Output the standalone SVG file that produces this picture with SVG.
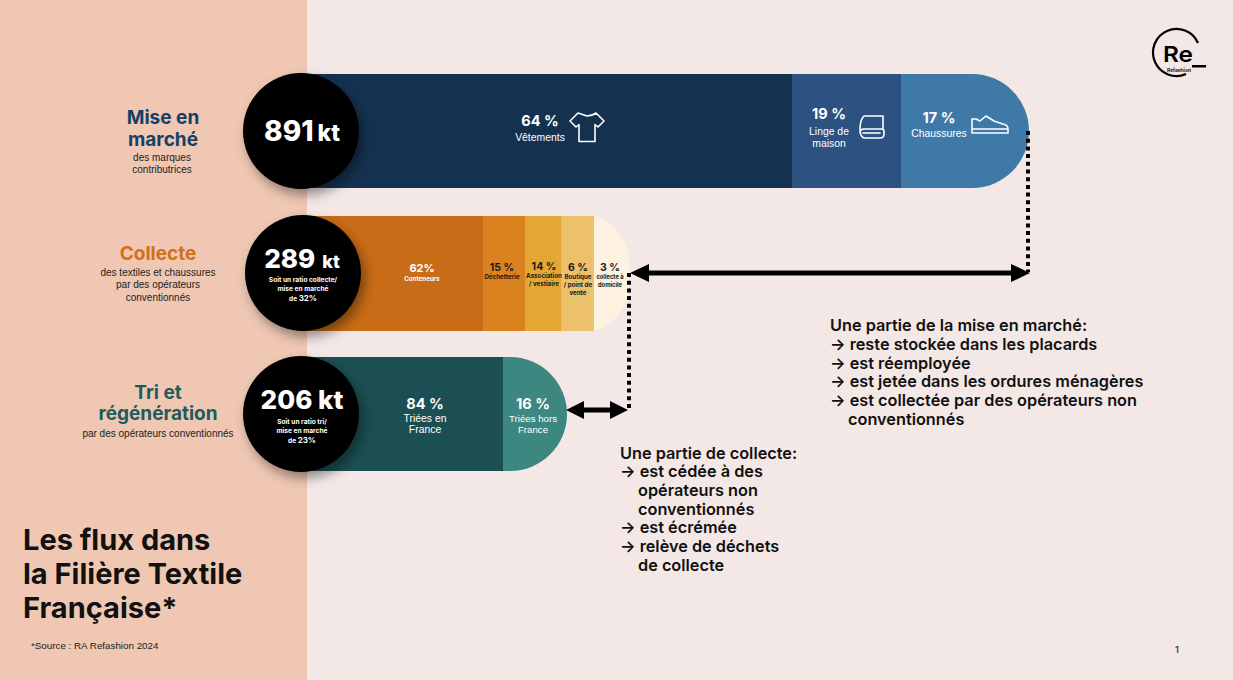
<svg xmlns="http://www.w3.org/2000/svg" width="1233" height="680" viewBox="0 0 1233 680">
<style>
text{font-family:"Inter","Liberation Sans",sans-serif;}
.pct{font-weight:700;font-size:14.5px;fill:#fff;text-anchor:middle}
.lab{font-family:"Liberation Sans",sans-serif;font-size:10.400px;fill:#fff;text-anchor:middle}
.tiny{font-weight:700;font-size:6.2px;text-anchor:middle}
.dk{fill:#1a1a1a}
.pd{font-weight:700;font-size:10.5px;text-anchor:middle;fill:#1a1a1a}
.kt{font-weight:800;fill:#fff;text-anchor:middle}
.sub{font-weight:700;font-size:6.6px;fill:#fff;text-anchor:middle}
.h{font-weight:700;font-size:19px;text-anchor:middle}
.d{font-family:"Liberation Sans",sans-serif;font-size:10px;fill:#222;text-anchor:middle}
.note{font-weight:600;font-size:16.300px;fill:#111}
.ti{font-weight:700;font-size:29px;fill:#111}
.ic{fill:none;stroke:#fff;stroke-width:1.6;stroke-linejoin:round;stroke-linecap:round}
.dot{fill:none;stroke:#000;stroke-width:4;stroke-dasharray:4 3.7}
.dbl{fill:none;stroke:#000;stroke-width:5}
</style>
<defs>
<filter id="sh" x="-30%" y="-30%" width="170%" height="170%"><feDropShadow dx="4" dy="6" stdDeviation="6" flood-color="#000" flood-opacity="0.4"/></filter>
</defs>
<rect width="1233" height="680" fill="#f4e8e6"/>
<rect width="307" height="680" fill="#efc7b3"/>

<g id="row-mise-en-marche">
<rect x="300" y="74" width="492" height="114" fill="#143250"/>
<rect x="792" y="74" width="109" height="114" fill="#2c5282"/>
<path d="M901 74H972A57 57 0 0 1 972 188H901Z" fill="#3f79a8"/>
<circle cx="301" cy="131" r="58" fill="#000" filter="url(#sh)"/>
<text x="302" y="141" class="kt" font-size="28">891<tspan font-size="23" dx="4">kt</tspan></text>
<text x="163" y="124" class="h" fill="#143f66">Mise en</text>
<text x="163" y="146" class="h" fill="#143f66">marché</text>
<text x="162" y="161" class="d">des marques</text>
<text x="162" y="173" class="d">contributrices</text>
<text x="540" y="126" class="pct">64 %</text>
<text x="540" y="141" class="lab">Vêtements</text>
<path class="ic" d="M570 121L578 113Q587 116 587 116Q592 116 596 113L604 121L598 127L595 124.500V141.500H579V124.500L576 127Z"/>
<text x="829" y="119" class="pct">19 %</text>
<text x="829" y="135" class="lab">Linge de</text>
<text x="829" y="147" class="lab">maison</text>
<path class="ic" d="M864 116H883V129M864 116Q860 120 860 129Q860 138 865 138H880Q884 138 884 134V131Q884 129 881 129H864Q860 129 860 133M863 133H880"/>
<text x="939" y="123" class="pct">17 %</text>
<text x="939" y="137" class="lab">Chaussures</text>
<path class="ic" d="M972 119H976L980 121L986 116L994 121L1003 124Q1008 125 1008 129V133H972ZM972 129H1008" stroke-width="1.400"/>
</g>

<g id="row-collecte">
<rect x="300" y="216" width="183" height="115" fill="#c96c17"/>
<rect x="483" y="216" width="42" height="115" fill="#d9821f"/>
<rect x="525" y="216" width="36" height="115" fill="#e5a733"/>
<rect x="561" y="216" width="33" height="115" fill="#edc06c"/>
<path d="M594 216Q630 226 630 273Q630 320 594 331Z" fill="#fdf2df"/>
<circle cx="303" cy="273" r="58" fill="#000" filter="url(#sh)"/>
<text x="302" y="268" class="kt" font-size="26">289<tspan font-size="18" dx="7">kt</tspan></text>
<text x="303" y="282" class="sub">Soit un ratio collecte/</text>
<text x="303" y="291" class="sub">mise en marché</text>
<text x="303" y="301" class="sub">de <tspan font-size="8">32%</tspan></text>
<text x="158" y="260" class="h" fill="#d2701a">Collecte</text>
<text x="158" y="276" class="d">des textiles et chaussures</text>
<text x="158" y="288" class="d">par des opérateurs</text>
<text x="158" y="301" class="d">conventionnés</text>
<text x="422" y="272" class="pct" style="font-size:11px">62%</text>
<text x="422" y="281" class="tiny" fill="#fff">Conteneurs</text>
<text x="502" y="271" class="pd">15 %</text>
<text x="502" y="279" class="tiny dk">Déchetterie</text>
<text x="544" y="270" class="pd">14 %</text>
<text x="544" y="278" class="tiny dk">Association</text>
<text x="544" y="286" class="tiny dk">/ vestiaire</text>
<text x="578" y="271" class="pd">6 %</text>
<text x="578" y="279" class="tiny dk">Boutique</text>
<text x="578" y="287" class="tiny dk">/ point de</text>
<text x="578" y="295" class="tiny dk">vente</text>
<text x="610" y="271" class="pd">3 %</text>
<text x="610" y="279" class="tiny dk" style="font-size:5.800px">collecte à</text>
<text x="610" y="287" class="tiny dk" style="font-size:5.800px">domicile</text>
</g>

<g id="row-tri">
<rect x="300" y="357" width="203" height="114" fill="#1b4f54"/>
<path d="M503 357H510A57 57 0 0 1 510 471H503Z" fill="#3c8880"/>
<circle cx="301" cy="414" r="58" fill="#000" filter="url(#sh)"/>
<text x="302" y="409" class="kt" font-size="26">206 kt</text>
<text x="302" y="424" class="sub">Soit un ratio tri/</text>
<text x="302" y="433" class="sub">mise en marché</text>
<text x="302" y="443" class="sub">de <tspan font-size="8">23%</tspan></text>
<text x="158" y="399" class="h" fill="#1d5c5e">Tri et</text>
<text x="158" y="420" class="h" fill="#1d5c5e">régénération</text>
<text x="158" y="437" class="d">par des opérateurs conventionnés</text>
<text x="425" y="409" class="pct">84 %</text>
<text x="425" y="422" class="lab">Triées en</text>
<text x="425" y="433" class="lab">France</text>
<text x="533" y="409" class="pct">16 %</text>
<text x="533" y="422" class="lab" style="font-size:9.700px">Triées hors</text>
<text x="533" y="433" class="lab" style="font-size:9.700px">France</text>
</g>

<g id="connectors">
<path class="dot" d="M1028 131V272"/>
<path class="dot" d="M629 273V409"/>
<path class="dbl" d="M645 273H1015"/>
<path d="M630 273L649 264V282ZM1030 273L1011 264V282Z" fill="#000"/>
<path class="dbl" d="M582 410H612"/>
<path d="M566 410L584 401V419ZM628 410L610 401V419Z" fill="#000"/>
</g>

<g id="note-marche">
<text x="830" y="331" class="note">Une partie de la mise en marché:</text>
<text x="830" y="350" class="note">→ reste stockée dans les placards</text>
<text x="830" y="369" class="note">→ est réemployée</text>
<text x="830" y="387" class="note">→ est jetée dans les ordures ménagères</text>
<text x="830" y="406" class="note">→ est collectée par des opérateurs non</text>
<text x="848" y="425" class="note">conventionnés</text>
</g>
<g id="note-collecte">
<text x="620" y="459" class="note">Une partie de collecte:</text>
<text x="620" y="477" class="note">→ est cédée à des</text>
<text x="638" y="496" class="note">opérateurs non</text>
<text x="638" y="515" class="note">conventionnés</text>
<text x="620" y="533" class="note">→ est écrémée</text>
<text x="620" y="552" class="note">→ relève de déchets</text>
<text x="638" y="571" class="note">de collecte</text>
</g>

<g id="title">
<text x="23" y="550" class="ti">Les flux dans</text>
<text x="23" y="584" class="ti">la Filière Textile</text>
<text x="23" y="618" class="ti">Française*</text>
<text x="31" y="649" font-size="9.800" fill="#222" style="font-family:'Liberation Sans',sans-serif">*Source : RA Refashion 2024</text>
</g>

<g id="logo">
<path d="M1198 43A23.500 23.500 0 1 0 1186 74" fill="none" stroke="#000" stroke-width="2.200"/>
<text x="1178" y="62" font-size="22" font-weight="600" text-anchor="middle" fill="#000" textLength="30" lengthAdjust="spacingAndGlyphs">Re</text>
<rect x="1192" y="65" width="14" height="2.500" fill="#000"/>
<text x="1179" y="72" font-size="5" font-weight="600" text-anchor="middle" fill="#000">Refashion</text>
</g>
<text x="1177" y="653" font-size="9" font-weight="600" text-anchor="middle" fill="#1d3f66">1</text>
</svg>
